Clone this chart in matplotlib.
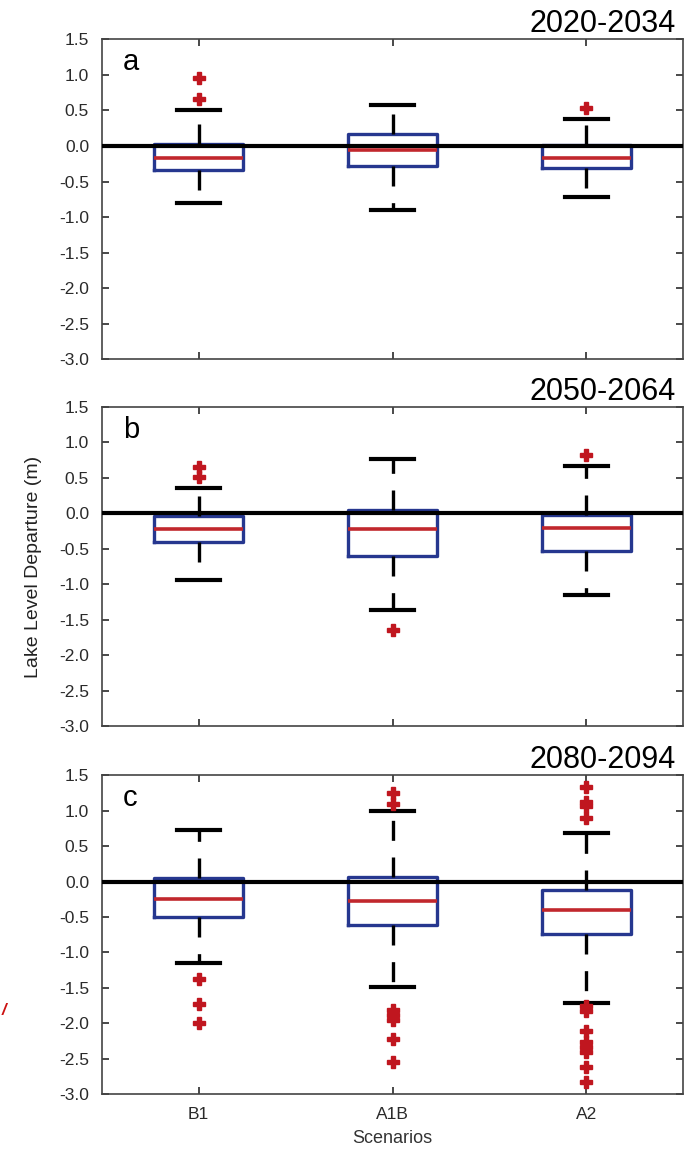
import numpy as np
import matplotlib
matplotlib.use('Agg')
import matplotlib.pyplot as plt

plt.rcParams['font.family'] = ['Liberation Sans', 'DejaVu Sans']
plt.rcParams['axes.unicode_minus'] = False

# scenarios on the x axis
scenarios = ['B1', 'A1B', 'A2']
periods = ['2020-2034', '2050-2064', '2080-2094']
panel_tags = ['a', 'b', 'c']

# box statistics (lake level departure, m)
# panel a: 2020-2034
med_a = [-0.17, -0.055, -0.17]
q1_a = [-0.335, -0.275, -0.31]
q3_a = [0.03, 0.165, 0.01]
lo_a = [-0.80, -0.90, -0.72]
hi_a = [0.50, 0.58, 0.375]
out_a = [[0.955, 0.665], [], [0.54]]

# panel b: 2050-2064
med_b = [-0.22, -0.22, -0.21]
q1_b = [-0.41, -0.60, -0.53]
q3_b = [-0.035, 0.045, -0.03]
lo_b = [-0.94, -1.37, -1.15]
hi_b = [0.36, 0.77, 0.665]
out_b = [[0.655, 0.515], [-1.645], [0.82]]

# panel c: 2080-2094
med_c = [-0.245, -0.27, -0.40]
q1_c = [-0.50, -0.61, -0.74]
q3_c = [0.045, 0.06, -0.12]
lo_c = [-1.15, -1.49, -1.715]
hi_c = [0.725, 1.0, 0.69]
out_c = [[-1.38, -1.72, -2.0],
         [1.25, 1.1, -1.81, -1.88, -1.95, -2.22, -2.55],
         [1.33, 1.12, 1.06, 0.89, -1.76, -1.83, -2.11, -2.26, -2.33, -2.40, -2.61, -2.82]]

yticks = [1.5, 1.0, 0.5, 0.0, -0.5, -1.0, -1.5, -2.0, -2.5, -3.0]

panels = [(med_a, q1_a, q3_a, lo_a, hi_a, out_a),
          (med_b, q1_b, q3_b, lo_b, hi_b, out_b),
          (med_c, q1_c, q3_c, lo_c, hi_c, out_c)]

box_blue = '#26378f'
med_red = '#c1272d'
out_red = '#c0161f'

fig = plt.figure(figsize=(6.92, 11.49), dpi=100)

left, width = 0.1467, 0.841
bottoms = [0.6873, 0.3681, 0.0476]
heights = [0.2785, 0.2777, 0.2777]

for i, (med, q1, q3, lo, hi, out) in enumerate(panels):
    ax = fig.add_axes([left, bottoms[i], width, heights[i]])

    stats = []
    for j in range(3):
        stats.append(dict(med=med[j], q1=q1[j], q3=q3[j],
                          whislo=lo[j], whishi=hi[j],
                          fliers=np.array(out[j]), label=scenarios[j]))

    ax.axhline(0, color='black', lw=3.0, zorder=3)

    ax.bxp(stats, positions=[1, 2, 3], widths=0.46, capwidths=0.22,
           showfliers=True,
           boxprops=dict(color=box_blue, lw=2.4),
           whiskerprops=dict(color='black', lw=2.4, linestyle=(0, (6, 5))),
           capprops=dict(color='black', lw=3.0),
           medianprops=dict(color=med_red, lw=2.6, zorder=4),
           flierprops=dict(marker='P', markerfacecolor=out_red,
                           markeredgecolor=out_red, markersize=8, linestyle='none'))

    ax.set_xlim(0.5, 3.5)
    ax.set_ylim(-3.0, 1.5)
    ax.set_yticks(yticks)
    ax.set_yticklabels(['%.1f' % v for v in yticks])
    ax.set_xticks([1, 2, 3])
    if i == 2:
        ax.set_xticklabels(scenarios)
        ax.set_xlabel('Scenarios', fontsize=13, labelpad=6, color='#333333')
    else:
        ax.set_xticklabels([])
    if i == 1:
        ax.set_ylabel('Lake Level Departure (m)', fontsize=14, labelpad=12, color='#222222')

    ax.tick_params(direction='in', top=True, right=True, length=5, width=1.2,
                   labelsize=12.5, colors='#2a2a2a', pad=9)
    ax.tick_params(axis='y', pad=9)
    for s in ax.spines.values():
        s.set_color('#444444')
        s.set_linewidth(1.2)

    ax.text(0.037, 0.903, panel_tags[i], transform=ax.transAxes,
            fontsize=21, ha='left', va='baseline')
    ax.text(1 - 7.5 / 582, 1 + 7.0 / 320, periods[i], transform=ax.transAxes,
            fontsize=22, ha='right', va='baseline')

# small red mark at the left edge of the reference
fig.text(0.002, 0.117, '/', color='#cc1111', fontsize=12, fontweight='bold', style='italic')

fig.savefig('out.png', dpi=100)
